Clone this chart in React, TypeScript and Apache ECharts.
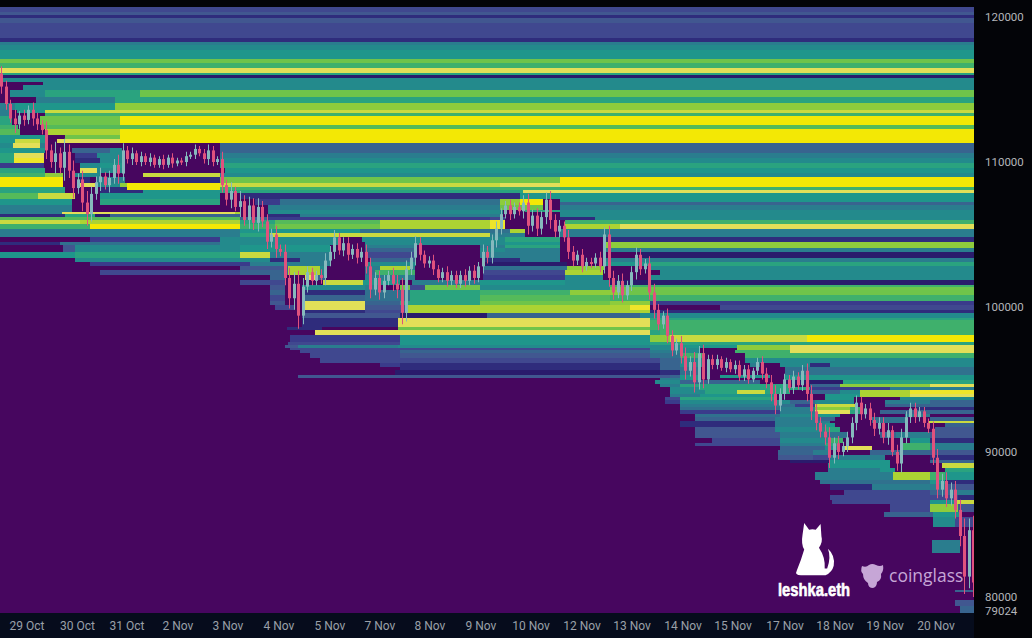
import React, { useEffect, useRef } from "react";
import * as echarts from "echarts";

const xTickSlots = [13.5, 38.7, 63.5, 89, 114, 139.5, 165, 190, 215, 240.5, 265.5, 291, 316, 341.5, 366.5, 392.5, 417.5, 442.5, 468];
const xTickLabels = ["29 Oct", "30 Oct", "31 Oct", "2 Nov", "3 Nov", "4 Nov", "5 Nov", "7 Nov", "8 Nov", "9 Nov", "10 Nov", "12 Nov", "13 Nov", "14 Nov", "15 Nov", "17 Nov", "18 Nov", "19 Nov", "20 Nov"];
const yTicks = [120, 110, 100, 90, 80, 79.024];

// price of the top of each liquidity row, in thousands of USD
const rowTops = [120.69, 120.34, 120.14, 119.93, 119.59, 118.55, 118.28, 118.07, 117.72, 117.10, 116.83, 116.48, 116.14, 116.00, 115.79, 115.52, 115.31, 114.97, 114.48, 114.07, 113.59, 113.38, 113.17, 112.55, 112.28, 111.86, 111.59, 111.31, 110.97, 110.62, 110.28, 109.93, 109.59, 109.24, 108.97, 108.55, 108.28, 108.07, 107.86, 107.45, 107.24, 107.03, 106.69, 106.55, 106.41, 106.21, 106.00, 105.72, 105.38, 105.10, 104.83, 104.48, 104.28, 104.07, 103.79, 103.38, 103.10, 102.83, 102.55, 102.21, 101.86, 101.52, 101.38, 101.17, 100.83, 100.41, 100.14, 99.79, 99.59, 99.24, 99.10, 98.62, 98.41, 98.07, 97.59, 97.38, 97.17, 97.03, 96.83, 96.48, 96.14, 95.86, 95.66, 95.31, 95.10, 94.97, 94.69, 94.48, 94.28, 94.00, 93.79, 93.59, 93.31, 93.10, 92.90, 92.62, 92.41, 92.14, 92.00, 91.72, 91.38, 90.97, 90.62, 90.41, 90.14, 89.79, 89.45, 89.24, 88.90, 88.62, 88.07, 87.79, 87.38, 87.03, 86.69, 86.41, 85.86, 85.52, 84.83, 83.93, 83.03, 80.48, 80.34, 79.79, 79.38];

// for each row: start slot, intensity, start slot, intensity ...
const rowSteps: number[][] = [
  [0,.2],[0,.25],[0,.12],[0,.27],[0,.19],[0,.09],[0,.42],[0,.46],[0,.5],[0,.72],[0,.62],[0,.9],[0,.55],[0,.05],
  [0,.46],
  [0,0,21.5,.46],
  [0,0,11.5,.46],
  [0,0,5,.46,22.5,.55,70,.68],
  [0,0,18,.42,57.5,.55],
  [0,.4,7.5,.5,57.5,.75],
  [0,.4,5,0,8.5,.5,22.5,.87],
  [0,.4,5,0,22.5,.6],
  [0,.55,6,0,20,.72,60,1],
  [0,.6,9,0,21,.65],
  [0,.65,10,0,22.5,.8,60,1],
  [0,.5,22.5,0,32.5,.72,60,1],
  [0,.5,7.5,.85,20,.5,22.5,0,28.5,.92,60,1],
  [0,.45,6.5,.92,20,.4,22.5,0,110,.28],
  [0,.5,22.5,0,36,.32,55,.45,61,0,110,.3],
  [0,.55,7,.92,22,0,37.5,.15,48.5,.45,61,0,110,.42],
  [0,.55,7,.95,22,0,37.5,.08,50,.45,61,0,110,.45],
  [0,.15,22,0,40,.45,50,.5,61,0,110,.56],
  [0,.55,22.5,0,40,.92,48.5,.45,61,0,112.5,.48],
  [0,.6,22.5,.75,31.5,0,37.5,.45,50,0,71.5,.85,110,.47],
  [0,1,31.5,0,40,.08,45,0,48.5,.4,62.5,0,80,.08,110,.72,280,1],
  [0,1,31.5,0,40,.92,48.5,.45,60,.75,63.5,1,110,.87,250,.9,280,.98],
  [0,.55,32.5,0,50,.08,63.5,1,110,.62],
  [0,.55,32.5,0,50,.08,71.5,.52,110,.55,261.5,.92],
  [0,.65,19,.85,37.5,0,50,.5,110,0,120,.08,260,.5],
  [0,.5,36,0,50,.55,110,0,127.5,.15,140,.35,250,.75,260,.98,271.5,0,280,.48],
  [0,.5,36,0,50,.55,110,0,127.5,.15,140,.35,250,.75,260,.98,271.5,0,280,.3],
  [0,.42,36,0,134,.42,250,.72,271.5,0,280,.4],
  [0,.42,36,0,134,.46,251.5,0,262.5,.55,280,.47],
  [0,.42,31,.92,117.5,.8,120,0,134,.46,251.5,0,280,.47],
  [0,.08,32.5,.55,47.5,.06,55,.3,120,0,134,.1,150,.4,251.5,0,280,.47],
  [0,.65,120,.3,134,.15,245,.2,252.5,0,280,.12,297.5,.47],
  [0,.85,40,.8,120,.55,137.5,.65,190,.78,245,.95,252.5,0,282.5,.6],
  [0,.6,45,1,120,.6,137.5,.68,190,.8,245,.95,252.5,0,282.5,.8,310,.92],
  [0,.42,120,.5,180,.35,245,.35,255,.8,262.5,0,280,.42],
  [0,.42,120,.55,135,.85,245,.4,262.5,0,280,.42],
  [0,0,45,.15,110,.45,170,0,181,.45,252.5,.55,280,0,302.5,.1],
  [0,.1,30,.35,110,.45,170,0,182.5,.45,252.5,.5,280,0,302.5,.75],
  [0,0,31.5,.25,37.5,.45,120,.5,165,0,182.5,.42,208,0,240,.42,252.5,.55,280,0,302.5,.75],
  [0,0,31.5,.25,37.5,.45,120,.5,165,0,182.5,.3,208,0,240,.45,252.5,.4,280,0,302.5,.42],
  [0,.5,37.5,.55,120,.85,135,.4,165,0,182.5,.2,208,0,240,.42,280,0,320,.03],
  [0,0,37.5,.45,135,.1,150,.42,165,0,185,.3,208,0,242.5,.1,260,.4,280,0,302.5,.42],
  [0,0,45,.15,125,.42,165,0,182.5,.45,208,0,243,.05,283.5,0,302.5,.5,325,.55],
  [0,0,120,.25,144,.8,160,.45,162.5,0,182.5,.4,190,.82,205,.4,207.5,0,241.5,.35,283.5,.75,302.5,0,325,.45],
  [0,0,50,.2,120,.3,144,.8,160,.45,162.5,0,182.5,.35,187.5,.6,207.5,0,241.5,.2,282.5,.8,301.5,0,330,.45],
  [0,0,135,.28,142.5,0,152.5,.9,159,.3,162.5,0,182.5,.42,207.5,0,241.5,.15,282.5,.45,301.5,0,325,.45],
  [0,0,120,.2,142.5,0,161.5,.85,181.5,.5,200,0,206,.4,240,.5,282.5,.45,305,.05],
  [0,0,135,.25,142.5,0,151,.45,182.5,.4,190,0,200,.7,205,.2,212.5,.72,240,.45,305,.58],
  [0,0,135,.25,142.5,0,151,.45,182.5,.4,190,0,200,.7,205,.2,212.5,.72,240,.45,305,.68],
  [0,0,135,.3,142.5,0,151,.08,182.5,.35,205,.55,240,.6,285,.75,310,.68],
  [0,0,135,.2,142.5,0,151,.3,182.5,.35,205,.55,240,.65,305,.58],
  [0,0,135,.25,142.5,0,151,.92,182.5,.3,200,.55,240,.68,305,.75,325,.15],
  [0,0,137.5,.2,147.5,0,151,.92,182.5,.25,202.5,.78,315,.95,325,0,360,.22],
  [0,0,151,.08,182.5,.2,202.5,.82,325,.08],
  [0,0,151,.25,200,.05,243.5,.3,320,.45],
  [0,0,151,.1,199,.9,325,.55],
  [0,0,151,.1,199,.92,325,.58],
  [0,0,143.5,.08,161,0,199,.7,325,.58],
  [0,0,157.5,.88,325,.55,330,.58],
  [0,0,145,.15,200,.5,325,.75,335,.87,403.5,1],
  [0,0,144,.2,200,.5,325,.55],
  [0,0,142.5,.25,149,.42,199,.45,325,.45,340,.5,368.5,.75,395,.92],
  [0,0,145,.2,197.5,.2,325,.45,340,.45,350,0,368.5,.75,395,.92],
  [0,0,150,.2,200,.3,325,.42,340,.45,350,0,367.5,.6,395,.92],
  [0,0,155,.2,200,.25,325,.35,340,.6,352.5,0,372.5,.6],
  [0,0,160,.2,200,.2,330,.3,340,.45,352.5,0,372.5,.45],
  [0,0,190,.15,200,.12,330,.3,340,.45,352.5,0,375,.42,380,0,390,.45,405,.1,415,.45],
  [0,0,200,.12,330,.3,340,.33,350,0,392.5,.33],
  [0,0,197.5,.06,330,.08,340,.33,350,0,392.5,.33],
  [0,0,149,.25,335,.3,340,.5,350,0,360,.5,385,0,392.5,.5],
  [0,0,330,.4,340,.5,350,0,385,0,392.5,.5],
  [0,0,327.5,.45,340,.3,352.5,.3,380,0,392.5,.05,421.5,.55],
  [0,0,330,.42,340,.55,365,.55,395,0,405,.3,420,.75,465,.9],
  [0,0,335,.45,350,.55,405,.15,445,.4],
  [0,0,335,.45,352.5,.55,368.5,.85,382.5,.55,395,0,405,.3,420,.45,430,.8,455,.95],
  [0,0,335,.4,350,.5,387.5,0,412.5,.5,430,.8,455,.92],
  [0,0,332.5,.2,340,.55,387.5,0,412.5,.5,427,0,450,.45],
  [0,0,332.5,.15,340,.45,387.5,.45,395,.3,407.5,.45,427,0,442.5,.42,465,.3],
  [0,0,340,.4,390,.35,397.5,.15,407.5,.85,427.5,0,442.5,.3],
  [0,0,340,.35,390,.42,407.5,.75,425,.6,430,0,457.5,.1],
  [0,0,340,.15,390,.42,407.5,.92,425,.55,430,0,440,.3],
  [0,0,347.5,.35,390,.45,407.5,.5,420,0,452.5,.4,465,0],
  [0,0,347.5,.3,387.5,.4,407.5,.3,417.5,0,436,.35,453,0,465,.3],
  [0,0,340,.08,387.5,.4,415,0,436,.35,453,0,464,.87],
  [0,0,340,.08,387.5,.42,412.5,.5,417.5,0,472.5,.3],
  [0,0,347.5,.25,387.5,.45,412.5,.55,420,0,467.5,.25],
  [0,0,347.5,.25,390,.42,414,.35,424,0,440,.3,448,.42,465,.25],
  [0,0,356,.2,390,.45,414,.6,421.5,0,455,.5,465,.1],
  [0,0,347.5,.2,390,.42,412.5,.55,420,0,451.5,.6,465,.42],
  [0,0,390,.3,412.5,.45,420,0,421.5,.9,436,0,451.5,.6,465,.42],
  [0,0,389,.3,406.5,.42,415,0,435,.3,465,.25],
  [0,0,389,.25,406.5,.2,415,.42,435,.42,442.5,0,465,.12],
  [0,0,395,.05,415,.5,445,0,465,.3],
  [0,0,414,.5,445,0,471,.87],
  [0,0,414,.42,440,.5,447.5,0,472.5,.55],
  [0,0,407.5,.42,446.5,.82,465,.6,472.5,.5],
  [0,0,410,.35,447.5,.35,465,.5,472.5,.08],
  [0,0,415,.1,436,.4,465,.4,472.5,.25],
  [0,0,422,.2,465,.3,477.5,.42],
  [0,0,415,.2,465,.2,479,.08],
  [0,0,416,.2,465,.5,477.5,.85],
  [0,0,445,.22,465,.75,479,.25],
  [0,0,442,.3,466.5,.5,480,0],
  [0,0,466.5,.45,477.5,.2],
  [0,0],
  [0,0,466,.4,480,0],
  [0,0],
  [0,0,477.5,.3],
  [0,0],
  [0,0,477.5,.25],
  [0,0,480,.3],
];
const rowBottom = 78.89;

// one candle every 2.25 slots, closing price in thousands of USD
const candleCloses = [115.2, 114.0, 113.0, 112.6, 113.2, 112.9, 113.6, 113.0, 112.6, 112.2, 110.8, 110.0, 110.6, 109.6, 110.7, 109.4, 108.2, 108.8, 107.2, 106.4, 107.8, 108.6, 109.0, 108.4, 108.9, 109.8, 109.2, 110.8, 110.2, 110.6, 110.0, 110.4, 110.0, 110.3, 109.8, 110.2, 109.8, 110.3, 109.9, 110.1, 110.0, 110.4, 110.5, 110.9, 110.6, 110.2, 110.8, 110.0, 110.2, 108.4, 107.4, 108.0, 106.9, 107.3, 106.0, 107.0, 105.8, 106.9, 105.9, 104.5, 105.0, 104.0, 103.8, 102.0, 100.6, 101.6, 99.4, 101.4, 102.4, 101.8, 102.2, 102.0, 103.2, 103.8, 104.8, 103.9, 104.4, 103.6, 104.0, 103.4, 103.8, 102.8, 101.2, 102.0, 101.0, 101.8, 102.2, 101.6, 101.2, 99.6, 102.6, 103.4, 104.4, 103.6, 103.0, 103.2, 102.6, 102.0, 102.4, 101.8, 102.2, 101.6, 102.2, 101.8, 102.5, 102.0, 102.8, 103.8, 103.4, 104.6, 105.4, 106.4, 107.0, 106.4, 106.9, 106.6, 107.2, 105.6, 106.3, 105.4, 106.2, 107.4, 106.0, 105.2, 105.6, 104.8, 103.8, 103.2, 103.6, 102.8, 103.1, 103.0, 103.4, 102.8, 105.0, 102.0, 101.0, 101.8, 100.8, 101.5, 102.4, 103.6, 102.6, 103.0, 101.0, 99.8, 98.8, 99.4, 98.0, 97.0, 97.5, 96.6, 95.6, 96.2, 94.8, 96.8, 95.0, 96.4, 96.0, 96.4, 95.8, 96.2, 95.7, 96.0, 95.2, 95.7, 95.0, 95.6, 96.2, 95.4, 94.8, 94.0, 93.2, 94.0, 95.0, 94.4, 95.2, 94.6, 95.6, 94.0, 92.8, 92.0, 91.4, 91.0, 89.6, 90.6, 90.0, 90.4, 91.0, 92.0, 93.4, 92.6, 93.0, 92.2, 91.6, 92.0, 91.0, 91.5, 90.0, 89.2, 91.0, 92.4, 93.0, 92.4, 92.8, 92.0, 91.6, 89.6, 87.4, 88.0, 86.8, 87.4, 86.0, 84.2, 81.4, 84.6, 81.0];
// how far each candle's wick reaches past its body, in thousands of USD
const candleWicks = [.5, .4, .3, .6, .3, .4, .3, .5, .4, .3, .6, .4, .8, .4, .9, .5, .7, .4, .6, .8, .5, .4, .6, .3, .5, .4, .7, .5, .3, .4, .2, .3, .2, .3, .2, .2, .3, .2, .3, .2, .2, .3, .2, .3, .2, .3, .4, .3, .2, .5, .4, .6, .3, .7, .4, .6, .5, .6, .4, .5, .4, .6, .3, .5, .7, .8, .9, .6, .4, .3, .3, .4, .5, .4, .5, .3, .4, .4, .3, .4, .3, .5, .6, .4, .5, .4, .3, .5, .6, .8, .6, .4, .5, .4, .3, .3, .4, .3, .3, .4, .3, .3, .3, .4, .3, .4, .3, .5, .4, .4, .5, .4, .3, .4, .3, .3, .5, .6, .4, .5, .4, .5, .6, .4, .4, .3, .5, .4, .3, .4, .3, .3, .3, .4, .5, .6, .5, .4, .5, .3, .4, .5, .4, .3, .5, .6, .4, .3, .5, .4, .3, .5, .6, .4, .7, .5, .6, .3, .3, .3, .2, .3, .2, .3, .3, .3, .3, .2, .3, .4, .4, .5, .6, .4, .4, .3, .4, .3, .4, .5, .6, .5, .4, .5, .7, .4, .5, .3, .4, .4, .5, .4, .3, .4, .5, .4, .4, .5, .3, .5, .6, .4, .4, .4, .3, .3, .3, .5, .6, .5, .6, .5, .6, .7, 1.2, .8, 1.0];

const colorStops = ["#47065f", "#2a1b6c", "#2f2c7c", "#3a3b8b", "#40488f", "#415790", "#38648f", "#30718e", "#2a7d8e", "#238a8c", "#1f968b", "#2aa37f", "#3fb06c", "#55ba5a", "#6fc44a", "#8ecc3c", "#acd333", "#c9da40", "#e2df58", "#eee52a", "#f3e805"];
const levelColor = (level: number) => colorStops[Math.round(level * 20)];

const SLOT_MAX = 487;
const cells: number[][] = [];
rowTops.forEach((top, i) => {
  const steps = rowSteps[i];
  const bottom = i + 1 < rowTops.length ? rowTops[i + 1] : rowBottom;
  for (let j = 0; j < steps.length; j += 2) {
    const end = j + 2 < steps.length ? steps[j + 2] : SLOT_MAX;
    cells.push([steps[j], end, top, bottom, steps[j + 1]]);
  }
});
const candles = candleCloses.map((close, i) => [i * 2.25, i === 0 ? close + 0.9 : candleCloses[i - 1], close, candleWicks[i] ?? 0.3]);

const CAT = "M10 0 L16 7 Q20 6 24 7 L30 1 L31 14 Q33 20 28 26 Q36 36 35 48 L38 48 Q43 36 39 27 Q48 34 46 45 Q44 52 36 55 L6 55 Q-2 55 1 50 Q6 40 10 28 Q6 22 8 12 Z";
const COIN = "M2 3 Q6 5 9 2 Q12 0 16 2 Q20 4 23 2 Q24 8 21 11 Q22 17 17 19 Q17 24 13 25 Q8 25 8 20 Q3 17 3 11 Q0 8 2 3 Z";

export default function App() {
  const ref = useRef<HTMLDivElement>(null);
  useEffect(() => {
    document.body.style.margin = "0";
    echarts.graphic.registerShape("catMark", echarts.graphic.extendPath(CAT, {}) as any);
    echarts.graphic.registerShape("coinMark", echarts.graphic.extendPath(COIN, {}) as any);
    const chart = echarts.init(ref.current!, null, { renderer: "svg" });
    chart.setOption({
      animation: false,
      backgroundColor: "#030408",
      grid: { left: 0, right: 58, top: 7, bottom: 25 },
      xAxis: {
        type: "value", min: 0, max: SLOT_MAX, splitLine: { show: false }, axisLine: { show: false }, axisTick: { show: false },
        axisLabel: {
          customValues: xTickSlots, color: "#9aa0a8", fontFamily: "Roboto", fontSize: 12, margin: 7,
          formatter: (v: number) => xTickLabels[xTickSlots.indexOf(v)] ?? "",
        },
      },
      yAxis: {
        type: "value", position: "right", min: rowBottom, max: rowTops[0], splitLine: { show: false }, axisLine: { show: false }, axisTick: { show: false },
        axisLabel: {
          customValues: yTicks, color: "#b4b6ba", fontFamily: "Roboto", fontSize: 11.5, margin: 11,
          formatter: (v: number) => String(Math.round(v * 1000)),
        },
      },
      graphic: [
        { type: "rect", silent: true, z: 0, shape: { x: 0, y: 613, width: 974, height: 25 }, style: { fill: "#060c1c" } },
        { type: "catMark", silent: true, z: 100, x: 796, y: 523, scaleX: 0.82, scaleY: 0.95, style: { fill: "#ffffff" } },
        { type: "text", silent: true, z: 100, x: 778, y: 589, scaleX: 0.82, style: { text: "leshka.eth", fill: "#ffffff", stroke: "#ffffff", lineWidth: 0.6, font: 'bold 18px "Liberation Sans"', textAlign: "left", textVerticalAlign: "middle" } },
        { type: "coinMark", silent: true, z: 100, x: 860, y: 563, style: { fill: "#c6a6d6" } },
        { type: "text", silent: true, z: 100, x: 889, y: 575, style: { text: "coinglass", fill: "#c6a6d6", font: '17.5px "Open Sans"', textAlign: "left", textVerticalAlign: "middle" } },
      ],
      series: [
        {
          type: "custom", z: 2, data: cells, silent: true, clip: true, encode: { x: [0, 1], y: [2, 3] },
          renderItem: (_: any, api: any) => {
            const a = api.coord([api.value(0), api.value(2)]);
            const b = api.coord([api.value(1), api.value(3)]);
            const x0 = Math.round(a[0]), y0 = Math.round(a[1]);
            return { type: "rect", shape: { x: x0, y: y0, width: Math.round(b[0]) - x0, height: Math.round(b[1]) - y0 }, style: { fill: levelColor(api.value(4)), stroke: null } };
          },
        },
        {
          type: "custom", z: 3, data: candles, silent: true, clip: true, encode: { x: 0, y: [1, 2] },
          renderItem: (_: any, api: any) => {
            const open = api.value(1), close = api.value(2), wick = api.value(3);
            const a = api.coord([api.value(0), open]);
            const b = api.coord([api.value(0), close]);
            const hi = api.coord([api.value(0), Math.max(open, close) + wick]);
            const lo = api.coord([api.value(0), Math.min(open, close) - wick]);
            const color = close < open ? "#e0527e" : "#86b9bd";
            const cx = Math.round(a[0]) + 1.5;
            return {
              type: "group",
              children: [
                { type: "rect", shape: { x: cx - 0.5, y: hi[1], width: 1, height: lo[1] - hi[1] }, style: { fill: color, stroke: null } },
                { type: "rect", shape: { x: cx - 1.5, y: Math.min(a[1], b[1]), width: 3, height: Math.max(2, Math.abs(b[1] - a[1])) }, style: { fill: color, stroke: null } },
              ],
            };
          },
        },
      ],
    });
    return () => chart.dispose();
  }, []);
  return <div ref={ref} style={{ position: "absolute", left: 0, top: 0, width: 1032, height: 638 }} />;
}
